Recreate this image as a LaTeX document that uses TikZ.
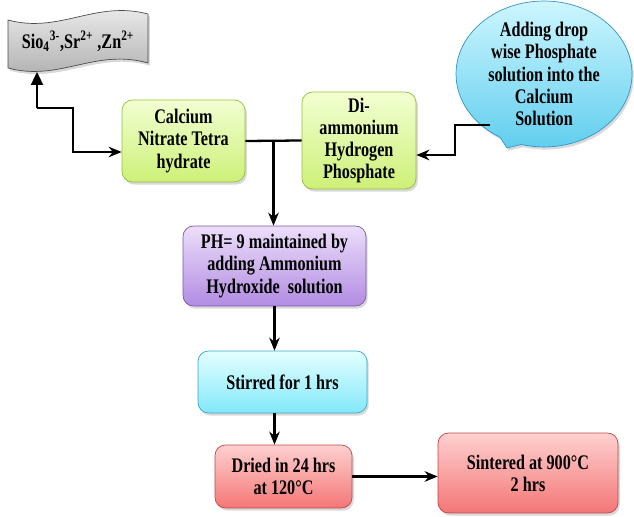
\documentclass[tikz,border=0pt]{standalone}
\usepackage{fontspec}
\setmainfont{Liberation Serif}[FakeStretch=0.78]
\usepackage{tikz}
\usetikzlibrary{shadows,arrows.meta,positioning,shapes.callouts,calc}
\definecolor{greentop}{RGB}{242,255,210}
\definecolor{greenbot}{RGB}{205,240,120}
\definecolor{greenline}{RGB}{150,190,60}
\definecolor{violettop}{RGB}{236,222,250}
\definecolor{violetbot}{RGB}{178,140,226}
\definecolor{violetline}{RGB}{125,85,175}
\definecolor{cyantop}{RGB}{228,255,255}
\definecolor{cyanbot}{RGB}{130,232,250}
\definecolor{cyanline}{RGB}{60,165,200}
\definecolor{redtop}{RGB}{255,208,208}
\definecolor{redbot}{RGB}{244,118,118}
\definecolor{redline}{RGB}{195,70,70}
\definecolor{bubbletop}{RGB}{205,246,255}
\definecolor{bubblebot}{RGB}{95,205,238}
\definecolor{bubbleline}{RGB}{50,150,200}
\tikzset{
  stage/.style={rectangle, rounded corners=6pt, thin, align=center,
                font=\fontsize{11.8}{12.6}\selectfont\bfseries,
                drop shadow={opacity=0.3, shadow xshift=1pt, shadow yshift=-1.5pt}},
  link/.style={line width=1.3pt, black},
  arrow/.style={-{Stealth[length=2.6mm, width=2.1mm]}, line width=1.3pt, black},
}

\begin{document}
\begin{tikzpicture}[
        x=0.02cm, y=-0.02cm,
        greenbox/.style={stage, draw=greenline, top color=greentop, bottom color=greenbot},
        violetbox/.style={stage, draw=violetline, top color=violettop, bottom color=violetbot},
        cyanbox/.style={stage, draw=cyanline, top color=cyantop, bottom color=cyanbot},
        redbox/.style={stage, draw=redline, top color=redtop, bottom color=redbot}
    ]
    \useasboundingbox (0,0) rectangle (634,516);

    % Ion banner
    \shade[top color=gray!12, bottom color=gray!65, draw=black!70, thin,
           drop shadow={opacity=0.3, shadow xshift=1pt, shadow yshift=-1.5pt}]
        (8,20) .. controls (60,34) and (95,0) .. (148,14)
        -- (148,63) .. controls (95,48) and (60,82) .. (8,68) -- cycle;
    \node[font=\fontsize{11.8}{12.6}\selectfont\bfseries] (ions) at (78,41)
        {Sio\textsubscript{4}\textsuperscript{3-},Sr\textsuperscript{2+} ,Zn\textsuperscript{2+}};
    \coordinate (bannerfoot) at (37,72);
    \coordinate (bend) at (37,108);

    % Starting salts
    \node[greenbox, minimum width=2.46cm, minimum height=1.64cm] (calcium) at (183.5,141)
        {Calcium\\Nitrate Tetra\\hydrate};
    \node[greenbox, minimum width=2.28cm, minimum height=1.9cm] (diammonium) at (359,140.5)
        {Di-\\ammonium\\Hydrogen\\Phosphate};

    % Callout
    \node[ellipse callout, callout absolute pointer={(507,148)}, draw=bubbleline, thin,
          top color=bubbletop, bottom color=bubblebot, inner sep=0pt,
          minimum width=3.52cm, minimum height=2.56cm, align=center,
          font=\fontsize{11.8}{12.6}\selectfont\bfseries,
          drop shadow={opacity=0.3, shadow xshift=1pt, shadow yshift=-1.5pt}] (bubble) at (544,74)
        {Adding drop\\wise Phosphate\\solution into the\\Calcium\\Solution};
    \coordinate (dropin) at (490,125);

    % Process steps
    \node[violetbox, minimum width=3.66cm, minimum height=1.6cm] (phbox) at (274.5,266)
        {PH= 9 maintained by\\adding Ammonium\\Hydroxide\ \ solution};
    \node[cyanbox, minimum width=3.38cm, minimum height=1.24cm] (stirred) at (282.5,382)
        {Stirred for 1 hrs};
    \node[redbox, minimum width=2.74cm, minimum height=1.26cm] (dried) at (283.5,476.5)
        {Dried in 24 hrs\\at 120°C};
    \node[redbox, minimum width=3.6cm, minimum height=1.6cm] (sintered) at (528,473)
        {Sintered at 900°C\\2 hrs};

    % Connectors
    \coordinate (mix) at ($(calcium.east)!0.5!(diammonium.west)$);
    \draw[link, -{Triangle[length=2.6mm, width=2.4mm]}] (bend) -- (bannerfoot);
    \draw[arrow] (bend) -| (73,152) -- (calcium.west |- 73,152);
    \draw[link] (calcium.east) -- (diammonium.west);
    \draw[arrow] (mix) -- (phbox.north -| mix);
    \draw[arrow] (dropin) -| (455,155) -- (diammonium.east |- 455,155);
    \draw[arrow] (phbox.south) -- (stirred.north -| phbox.south);
    \draw[arrow] (stirred.south -| phbox.south) -- (dried.north -| phbox.south);
    \draw[arrow] (dried.east) -- (sintered.west |- dried.east);

\end{tikzpicture}
\end{document}
